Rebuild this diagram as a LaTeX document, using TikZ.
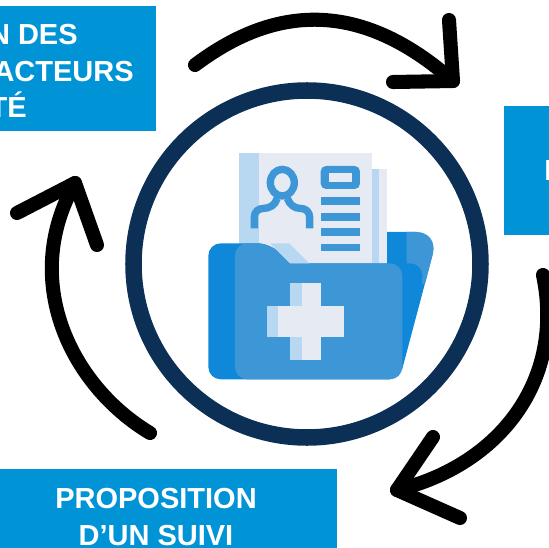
\documentclass[tikz,border=0pt]{standalone}
\usepackage{fontspec}
\setmainfont{Liberation Sans}
\definecolor{boxblue}{HTML}{0094D6}
\definecolor{ringblue}{HTML}{0C2F55}
\definecolor{folderdark}{HTML}{0F88D9}
\definecolor{folderlight}{HTML}{3D97D6}
\definecolor{palestripe}{HTML}{B8D8F2}
\definecolor{paper}{HTML}{E6EBF3}
\tikzset{
	boxtext/.style={text=white,font=\fontsize{16.5}{20}\selectfont\bfseries,anchor=base},
	turnarrow/.style={black,line width=8pt,line cap=round,line join=round},
	figureline/.style={folderlight,line width=4.2pt,line join=round}
}
\begin{document}
\begin{tikzpicture}[x=0.02cm,y=0.02cm]
			\tikzstyle{every node}+=[inner sep=0pt]
			\useasboundingbox (0,0) rectangle (549,-548);
			\clip (0,0) rectangle (549,-548);
			\fill [boxblue] (-5,-6) rectangle (156,-131);
			\fill [boxblue] (504,-106) rectangle (555,-235);
			\fill [boxblue] (-5,-469) rectangle (337,-555);
			\node (desline) [boxtext,anchor=base east] at (78,-44) {N DES};
			\node (actorsline) [boxtext,anchor=base east] at (134,-81) {ACTEURS};
			\node (citeline) [boxtext,anchor=base east] at (27,-117) {TÉ};
			\node (rightline) [boxtext,anchor=base west] at (544,-180) {I};
			\node (propline) [boxtext] at (156,-508) {PROPOSITION};
			\node (suiviline) [boxtext] at (156,-545) {D’UN SUIVI};
			\draw [ringblue,line width=9.4pt] (307,-264) circle (173.5);
			\coordinate (topstart) at (195,-65);
			\coordinate (toptip) at (453,-81);
			\coordinate (topbarba) at (449,-20);
			\coordinate (topbarbb) at (393,-82);
			\coordinate (rightstart) at (543,-275);
			\coordinate (righttip) at (397,-490);
			\coordinate (rightbarba) at (433,-437);
			\coordinate (rightbarbb) at (460,-518);
			\coordinate (leftstart) at (150,-433);
			\coordinate (lefttip) at (75,-183);
			\coordinate (leftbarba) at (17,-213);
			\coordinate (leftbarbb) at (97,-245);
			\draw [turnarrow] (topstart) .. controls (280,-1) and (365,-3.5) .. (toptip);
			\draw [turnarrow] (topbarba) -- (toptip) -- (topbarbb);
			\draw [turnarrow] (rightstart) .. controls (565,-380) and (500,-465) .. (righttip);
			\draw [turnarrow] (rightbarba) -- (righttip) -- (rightbarbb);
			\draw [turnarrow] (leftstart) .. controls (70,-385) and (20,-280) .. (lefttip);
			\draw [turnarrow] (leftbarba) -- (lefttip) -- (leftbarbb);
			\begin{scope}[shift={(190,-130)},scale=0.3333]
				\fill [folderdark] (590,-306) -- (680,-306) -- (729,-370) -- (636,-720) -- (590,-720) -- cycle;
				\fill [folderlight] (650,-306) -- (680,-306) .. controls (715,-306) and (738,-335) .. (729,-370) -- (705,-462) -- (650,-462) -- cycle;
				\fill [paper] (545,-118) rectangle (592,-400);
				\fill [palestripe] (545,-118) rectangle (568,-400);
				\fill [paper] (148,-70) rectangle (545,-400);
				\fill [palestripe] (148,-70) rectangle (207,-400);
				\fill [folderdark,rounded corners=7pt] (55,-340) -- (240,-340) [sharp corners] -- (300,-400) [rounded corners=7pt] -- (697,-400) -- (697,-470) [sharp corners] -- (637,-700) -- (600,-748) [rounded corners=7pt] -- (55,-748) -- cycle;
				\fill [folderlight,rounded corners=7pt] (135,-340) -- (240,-340) [sharp corners] -- (300,-400) [rounded corners=7pt] -- (637,-400) -- (637,-748) -- (135,-748) -- cycle;
				\fill [palestripe] (240,-340) -- (298,-340) -- (358,-400) -- (300,-400) -- cycle;
				\fill [palestripe] (300,-458) rectangle (393,-690);
				\fill [palestripe] (230,-527) rectangle (463,-621);
				\fill [paper] (335,-458) rectangle (393,-690);
				\fill [paper] (265,-527) rectangle (463,-621);
				\draw [figureline] (277,-158) ellipse (36 and 40);
				\draw [figureline] (193,-295) -- (193,-262) .. controls (193,-245) and (205,-235) .. (222,-235) .. controls (240,-235) and (255,-225) .. (262,-205);
				\draw [figureline] (359,-295) -- (359,-262) .. controls (359,-245) and (347,-235) .. (330,-235) .. controls (314,-235) and (299,-225) .. (292,-205);
				\fill [folderlight,rounded corners=3pt] (392,-108) rectangle (510,-177);
				\fill [paper] (417,-130) rectangle (487,-155);
				\foreach \rowtop/\rowbottom in {200/225,248/272,295/318,341/364}
					\fill [folderlight] (392,-\rowtop) rectangle (510,-\rowbottom);
			\end{scope}
		\end{tikzpicture}
\end{document}
